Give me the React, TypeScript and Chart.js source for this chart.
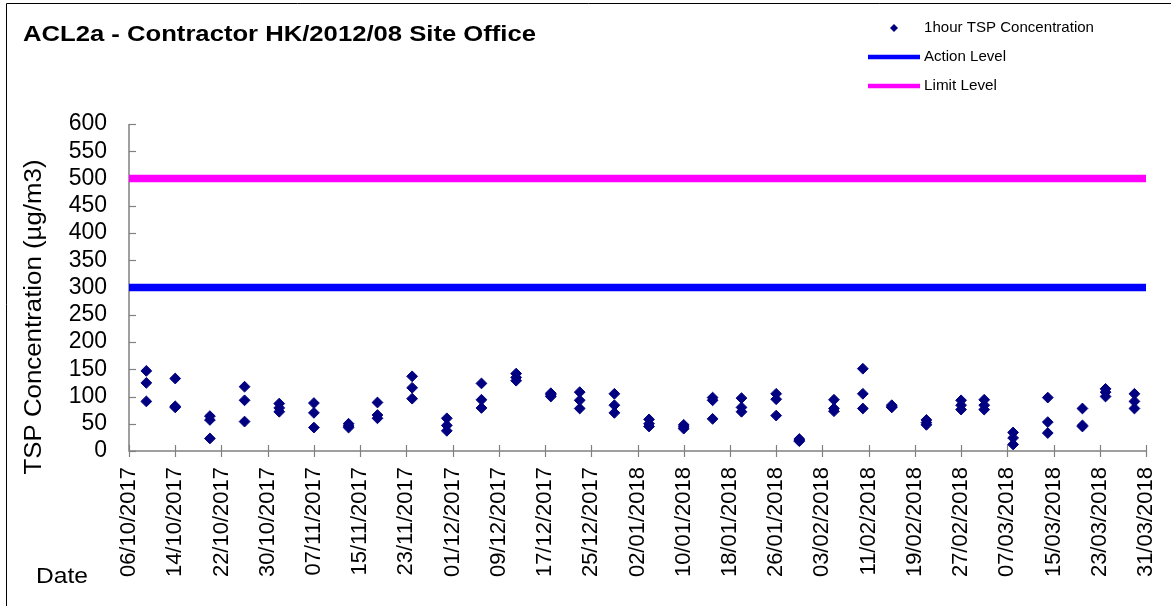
import React, { useEffect, useRef } from "react";
import { Chart, registerables } from "chart.js";

Chart.register(...registerables);

// ---------- texts ----------
const chartTitle = "ACL2a - Contractor HK/2012/08 Site Office";
const yAxisTitle = "TSP Concentration (µg/m3)";
const xAxisTitle = "Date";
const seriesNames = ["1hour TSP Concentration", "Action Level", "Limit Level"];

// ---------- axes ----------
const axisStartDate = "06/10/2017";
const axisEndDate = "31/03/2018";
const xTickStepDays = 8;
const yMin = 0;
const yMax = 600;
const yStep = 50;

// ---------- data ----------
const sampleDates = [
  "09/10/2017", "14/10/2017", "20/10/2017", "26/10/2017", "01/11/2017", "07/11/2017",
  "13/11/2017", "18/11/2017", "24/11/2017", "30/11/2017", "06/12/2017", "12/12/2017",
  "18/12/2017", "23/12/2017", "29/12/2017", "04/01/2018", "10/01/2018", "15/01/2018",
  "20/01/2018", "26/01/2018", "30/01/2018", "05/02/2018", "10/02/2018", "15/02/2018",
  "21/02/2018", "27/02/2018", "03/03/2018", "08/03/2018", "14/03/2018", "20/03/2018",
  "24/03/2018", "29/03/2018",
];
const readingsFirst = [
  147, 133, 64, 118, 87, 88, 50, 89, 137, 60, 124, 142, 106, 108, 105, 58,
  48, 98, 97, 105, 22, 94, 151, 84, 57, 93, 94, 34, 98, 78, 114, 105,
];
const readingsSecond = [
  125, 82, 57, 93, 79, 70, 46, 66, 116, 47, 94, 135, 103, 93, 84, 50,
  44, 93, 80, 95, 20, 78, 105, 81, 52, 84, 84, 24, 53, 47, 108, 91,
];
const readingsThird = [
  91, 80, 23, 54, 72, 43, 43, 60, 96, 37, 79, 129, 100, 78, 70, 45,
  41, 59, 72, 65, 18, 73, 78, 80, 48, 76, 76, 12, 33, 45, 100, 78,
];
const actionLevel = 300;
const limitLevel = 500;

// ---------- helpers ----------
const FONT = "'Liberation Sans', Arial, sans-serif";

function toUTC(s: string): number {
  const [d, m, y] = s.split("/").map(Number);
  return Date.UTC(y, m - 1, d);
}
const DAY = 86400000;
const startMs = toUTC(axisStartDate);
const dayIndex = (s: string) => Math.round((toUTC(s) - startMs) / DAY);
const xMax = dayIndex(axisEndDate);

function fmtDay(v: number): string {
  const dt = new Date(startMs + v * DAY);
  const dd = String(dt.getUTCDate()).padStart(2, "0");
  const mm = String(dt.getUTCMonth() + 1).padStart(2, "0");
  return `${dd}/${mm}/${dt.getUTCFullYear()}`;
}

const points: { x: number; y: number }[] = [];
sampleDates.forEach((d, i) => {
  const x = dayIndex(d);
  points.push({ x, y: readingsFirst[i] });
  points.push({ x, y: readingsSecond[i] });
  points.push({ x, y: readingsThird[i] });
});

function stretchText(
  ctx: CanvasRenderingContext2D,
  text: string,
  x: number,
  y: number,
  font: string,
  width: number | null,
  align: CanvasTextAlign,
  angle = 0
) {
  ctx.save();
  ctx.font = font;
  const w = ctx.measureText(text).width;
  const sx = width ? width / w : 1;
  ctx.translate(x, y);
  ctx.rotate(angle);
  ctx.scale(sx, 1);
  ctx.textAlign = align;
  ctx.textBaseline = "middle";
  ctx.fillStyle = "#000";
  ctx.fillText(text, 0, 0);
  ctx.restore();
}

const decorPlugin = {
  id: "decor",
  beforeDatasetsDraw(chart: any) {
    const ctx: CanvasRenderingContext2D = chart.ctx;
    const { left, right, top, bottom } = chart.chartArea;
    const xs = chart.scales.x;
    const ys = chart.scales.y;
    ctx.save();
    ctx.strokeStyle = "#808080";
    ctx.lineWidth = 1.5;
    ctx.beginPath();
    ctx.moveTo(left, top);
    ctx.lineTo(left, bottom);
    ctx.lineTo(right, bottom);
    ctx.stroke();
    ctx.lineWidth = 1.2;
    ys.ticks.forEach((t: any) => {
      const py = Math.round(ys.getPixelForValue(t.value)) + 0.5;
      ctx.beginPath();
      ctx.moveTo(left, py);
      ctx.lineTo(left + 7, py);
      ctx.stroke();
    });
    xs.ticks.forEach((t: any) => {
      const px = Math.round(xs.getPixelForValue(t.value)) + 0.5;
      ctx.beginPath();
      ctx.moveTo(px, bottom - 6);
      ctx.lineTo(px, bottom + 6);
      ctx.stroke();
    });
    ctx.restore();
  },
  afterDraw(chart: any) {
    const ctx: CanvasRenderingContext2D = chart.ctx;
    ctx.save();
    // outer frame
    ctx.strokeStyle = "#000";
    ctx.lineWidth = 1;
    ctx.beginPath();
    ctx.moveTo(6.5, 606);
    ctx.lineTo(6.5, 3.5);
    ctx.lineTo(1171, 3.5);
    ctx.stroke();
    ctx.restore();

    // title
    stretchText(ctx, chartTitle, 23, 35, `bold 22px ${FONT}`, 513, "left");
    // y axis title
    stretchText(ctx, yAxisTitle, 35, 317, `23px ${FONT}`, 315, "center", -Math.PI / 2);
    // x axis title
    stretchText(ctx, xAxisTitle, 36, 577, `22px ${FONT}`, 52, "left");

    // legend
    const lx = 924;
    const rows = [28, 57, 86];
    ctx.save();
    ctx.fillStyle = "#000080";
    ctx.beginPath();
    const dx = 894, dy = rows[0], r = 4;
    ctx.moveTo(dx - r, dy);
    ctx.lineTo(dx, dy - r);
    ctx.lineTo(dx + r, dy);
    ctx.lineTo(dx, dy + r);
    ctx.closePath();
    ctx.fill();
    ctx.lineWidth = 4.5;
    ctx.strokeStyle = "#0000FF";
    ctx.beginPath();
    ctx.moveTo(868, rows[1]);
    ctx.lineTo(920, rows[1]);
    ctx.stroke();
    ctx.strokeStyle = "#FF00FF";
    ctx.beginPath();
    ctx.moveTo(868, rows[2]);
    ctx.lineTo(920, rows[2]);
    ctx.stroke();
    ctx.restore();
    stretchText(ctx, seriesNames[0], lx, rows[0], `15px ${FONT}`, 170, "left");
    stretchText(ctx, seriesNames[1], lx, rows[1], `15px ${FONT}`, 82, "left");
    stretchText(ctx, seriesNames[2], lx, rows[2], `15px ${FONT}`, 73, "left");
  },
};

export default function App() {
  const ref = useRef<HTMLCanvasElement>(null);
  useEffect(() => {
    document.body.style.margin = "0";
    const chart = new Chart(ref.current!, {
      type: "scatter",
      data: {
        datasets: [
          {
            label: seriesNames[0],
            data: points,
            pointStyle: "rectRot",
            pointRadius: 5.4,
            pointHoverRadius: 5.4,
            backgroundColor: "#000080",
            borderColor: "#000080",
            borderWidth: 1,
            order: 0,
          } as any,
          {
            type: "line",
            label: seriesNames[1],
            data: [
              { x: 0, y: actionLevel },
              { x: xMax, y: actionLevel },
            ],
            borderColor: "#0000FF",
            backgroundColor: "#0000FF",
            borderWidth: 7.5,
            pointRadius: 0,
            showLine: true,
            order: 1,
          } as any,
          {
            type: "line",
            label: seriesNames[2],
            data: [
              { x: 0, y: limitLevel },
              { x: xMax, y: limitLevel },
            ],
            borderColor: "#FF00FF",
            backgroundColor: "#FF00FF",
            borderWidth: 7.5,
            pointRadius: 0,
            showLine: true,
            order: 1,
          } as any,
        ],
      },
      options: {
        responsive: false,
        animation: false,
        devicePixelRatio: 1,
        layout: { padding: { top: 124, right: 25, left: 0, bottom: 0 } },
        plugins: {
          legend: { display: false },
          title: { display: false },
          tooltip: { enabled: false },
        },
        scales: {
          x: {
            type: "linear",
            min: 0,
            max: xMax,
            grid: { display: false, drawTicks: false },
            border: { display: false },
            afterFit: (s: any) => {
              s.height = 155;
              s.paddingLeft = 0;
              s.paddingRight = 0;
            },
            ticks: {
              stepSize: xTickStepDays,
              autoSkip: false,
              minRotation: 90,
              maxRotation: 90,
              padding: 16,
              color: "#000",
              font: { family: FONT, size: 22 },
              callback: (v: any) => fmtDay(Number(v)),
            },
          },
          y: {
            type: "linear",
            min: yMin,
            max: yMax,
            grid: { display: false, drawTicks: false },
            border: { display: false },
            afterFit: (s: any) => {
              s.width = 129;
            },
            ticks: {
              stepSize: yStep,
              autoSkip: false,
              padding: 22,
              color: "#000",
              font: { family: FONT, size: 23 },
            },
          },
        },
      },
      plugins: [decorPlugin],
    } as any);
    return () => chart.destroy();
  }, []);
  return (
    <div style={{ width: 1171, height: 606 }}>
      <canvas ref={ref} width={1171} height={606} style={{ display: "block" }} />
    </div>
  );
}
